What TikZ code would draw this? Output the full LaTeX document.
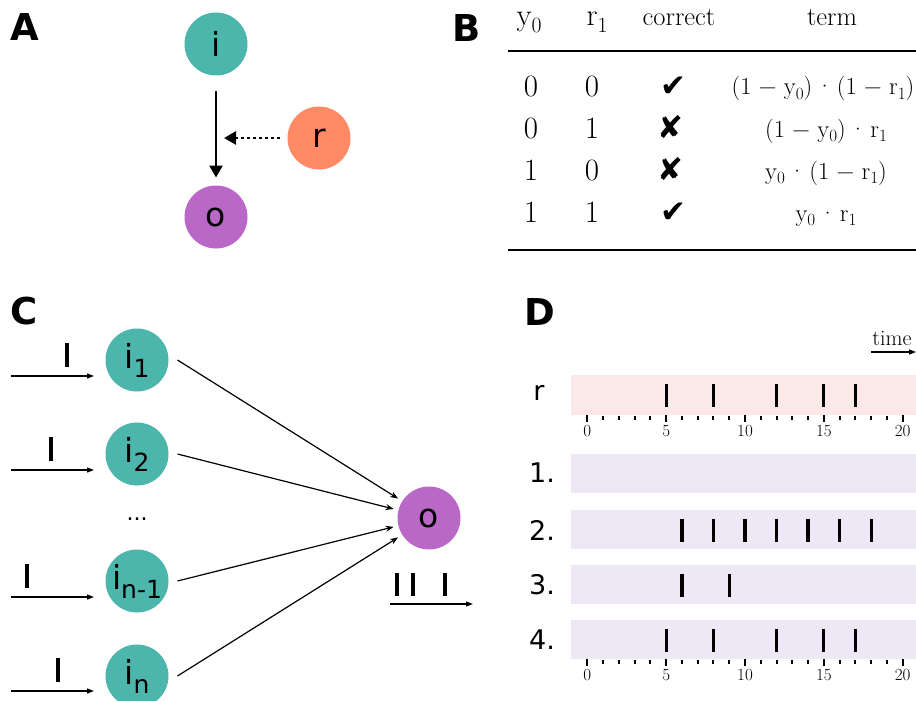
\documentclass[tikz,border=0pt]{standalone}
\usepackage{fontspec}
\usepackage{graphicx}
\usetikzlibrary{arrows.meta}
\newfontfamily\djv{DejaVu Sans}

\definecolor{cteal}{HTML}{4DB6AC}
\definecolor{corange}{HTML}{FF8A65}
\definecolor{cpurple}{HTML}{BA68C8}
\definecolor{bandpink}{HTML}{FBE9E7}
\definecolor{bandlav}{HTML}{EDE7F6}

\tikzset{
  panel/.style={font=\djv\bfseries\fontsize{37}{37}\selectfont, inner sep=0pt, anchor=north west},
  neuron/.style={circle, minimum size=63pt, inner sep=0pt, outer sep=0pt,
                 font=\djv\fontsize{33}{33}\selectfont},
  bigarrow/.style={line width=2.6pt, -{Triangle[length=12pt,width=13pt]}},
  dotarrow/.style={line width=2.6pt, dash pattern=on 2.6pt off 3.4pt,
                   -{Triangle[length=12pt,width=13pt]}},
  conn/.style={line width=1.2pt, -{Stealth[length=8pt,width=6pt]}},
  flow/.style={line width=1.2pt, -{Triangle[length=7pt,width=5pt]}},
  spike/.style={line width=3.2pt},
  tickln/.style={line width=2pt},
  digit/.style={font=\fontsize{31}{31}\selectfont, anchor=base, inner sep=0pt},
  hdr/.style={font=\fontsize{26.5}{26.5}\selectfont, anchor=base, inner sep=0pt},
  termtxt/.style={font=\fontsize{24.5}{24.5}\selectfont, anchor=base, inner sep=0pt},
  chk/.style={font=\djv\fontsize{31}{31}\selectfont, anchor=base, inner sep=0pt},
  rowlab/.style={font=\djv\fontsize{27}{27}\selectfont, inner sep=0pt},
  ticklab/.style={font=\fontsize{17}{17}\selectfont, inner sep=0pt},
}

% subscripts and binary operators set in text
\newcommand{\subtxt}[1]{\raisebox{-9pt}{\fontsize{25}{25}\selectfont #1}}
\newcommand{\lsub}[1]{\raisebox{-0.2em}{\scalebox{0.7}{#1}}}
\newcommand{\mns}{\hspace{0.3em}−\hspace{0.3em}}
\newcommand{\dt}{\hspace{0.14em}·\hspace{0.14em}}

\begin{document}
\begin{tikzpicture}[x=1pt, y=-1pt]
\useasboundingbox (0,0) rectangle (916,701);

% ---------- A: single synapse with reward modulation ----------
\node[panel] (labA) at (10,13) {A};
\node[neuron, fill=cteal]   (i) at (216,44)  {i};
\node[neuron, fill=cpurple] (o) at (216,217) {o};
\node[neuron, fill=corange] (r) at (319,138) {r};
\coordinate (mid) at (216,138);
\draw[bigarrow, shorten <=16pt, shorten >=8pt] (i) -- (o);
\draw[dotarrow, shorten <=8pt, shorten >=8pt] (r) -- (mid);

% ---------- B: truth table ----------
\node[panel] (labB) at (452,14) {B};
\node[digit] (h1) at (529,26) {y\lsub{0}};
\node[digit] (h2) at (597,26) {r\lsub{1}};
\node[hdr]   (h3) at (679,26) {correct};
\node[hdr]   (h4) at (832,26) {term};
\coordinate (ruleAl) at (508,51);  \coordinate (ruleAr) at (916,51);
\coordinate (ruleBl) at (508,250); \coordinate (ruleBr) at (916,250);
\draw[line width=1.5pt] (ruleAl) -- (ruleAr);
\draw[line width=1.5pt] (ruleBl) -- (ruleBr);

\node[digit] (a1) at (531,96)  {0};
\node[digit] (b1) at (592,96)  {0};
\node[chk]   (c1) at (673,96)  {✔};
\node[termtxt] (d1) at (823,95)  {(1\mns y\lsub{0})\dt(1\mns r\lsub{1})};

\node[digit] (a2) at (531,138) {0};
\node[digit] (b2) at (592,138) {1};
\node[chk]   (c2) at (670,138) {✘};
\node[termtxt] (d2) at (826,137) {(1\mns y\lsub{0})\dt r\lsub{1}};

\node[digit] (a3) at (531,180) {1};
\node[digit] (b3) at (592,180) {0};
\node[chk]   (c3) at (670,180) {✘};
\node[termtxt] (d3) at (826,179) {y\lsub{0}\dt(1\mns r\lsub{1})};

\node[digit] (a4) at (531,222) {1};
\node[digit] (b4) at (592,222) {1};
\node[chk]   (c4) at (673,222) {✔};
\node[termtxt] (d4) at (826,221) {y\lsub{0}\dt r\lsub{1}};

% ---------- C: many inputs converging on one output ----------
\node[panel] (labC) at (10,297) {C};
\node[neuron, fill=cteal] (i1) at (137,360) {i\subtxt{1}};
\node[neuron, fill=cteal] (i2) at (137,454) {i\subtxt{2}};
\node[font=\djv\fontsize{22}{22}\selectfont, inner sep=0pt] (dots) at (137,519) {...};
\node[neuron, fill=cteal] (im) at (137,581) {i\subtxt{n-1}};
\node[neuron, fill=cteal] (in) at (137,676) {i\subtxt{n}};
\node[neuron, fill=cpurple] (oc) at (429,518) {o};

\foreach \n in {i1,i2,im,in}
  \draw[conn, shorten >=5pt] ([xshift=9pt]\n.east) -- (oc);

% incoming spike trains
\foreach \k/\y/\s in {1/376/67, 2/470/51, 3/597/27, 4/691/58}{
  \coordinate (ins\k) at (11,\y);
  \coordinate (ine\k) at (94,\y);
  \draw[flow] (ins\k) -- (ine\k);
  \coordinate (sp\k a) at (\s,\y-33);
  \coordinate (sp\k b) at (\s,\y-9);
  \draw[spike] (sp\k a) -- (sp\k b);
}
% outgoing spike train
\coordinate (outs) at (390,604);
\coordinate (oute) at (473,604);
\draw[flow] (outs) -- (oute);
\foreach \s in {397,413,445}{
  \coordinate (os\s a) at (\s,573);
  \coordinate (os\s b) at (\s,596);
  \draw[spike] (os\s a) -- (os\s b);
}

% ---------- D: spike rasters over time ----------
\node[panel] (labD) at (524,298) {D};
\node[font=\fontsize{22}{22}\selectfont, inner sep=0pt] (time) at (892,338) {time};
\coordinate (tarr0) at (871,352);
\coordinate (tarr1) at (916,352);
\draw[flow] (tarr0) -- (tarr1);

\def\xt#1{587.3+15.77*#1}

% bands
\fill[bandpink] (571,375) rectangle (916,415);
\foreach \top in {454,510,565,620}
  \fill[bandlav] (571,\top) rectangle (916,\top+39);

\node[rowlab] (lr) at (539,393) {r};
\node[rowlab] (l1) at (542,473) {1.};
\node[rowlab] (l2) at (542,530) {2.};
\node[rowlab] (l3) at (542,585) {3.};
\node[rowlab] (l4) at (542,640) {4.};

% spikes
\foreach \t in {5,8,12,15,17}
  \draw[spike] ({\xt{\t}},384) -- ({\xt{\t}},407);
\foreach \t in {6,8,10,12,14,16,18}
  \draw[spike] ({\xt{\t}},519) -- ({\xt{\t}},542);
\foreach \t in {6,9}
  \draw[spike] ({\xt{\t}},574) -- ({\xt{\t}},597);
\foreach \t in {5,8,12,15,17}
  \draw[spike] ({\xt{\t}},629) -- ({\xt{\t}},652);

% time axes
\foreach \base in {415,659}{
  \foreach \t in {0,...,20}{
    \pgfmathtruncatemacro{\m}{mod(\t,5)}
    \ifnum\m=0
      \draw[tickln] ({\xt{\t}},\base) -- ({\xt{\t}},\base+7);
      \node[ticklab] at ({\xt{\t}},\base+16) {\t};
    \else
      \draw[tickln] ({\xt{\t}},\base+1) -- ({\xt{\t}},\base+5);
    \fi
  }
}
\end{tikzpicture}
\end{document}
